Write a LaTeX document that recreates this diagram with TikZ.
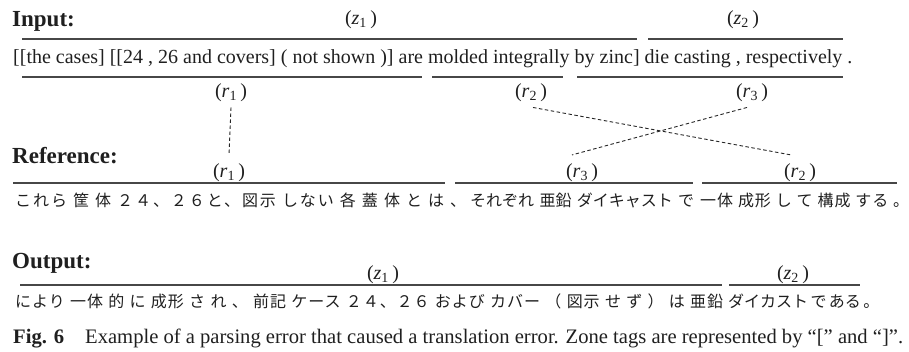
\documentclass[tikz,border=0pt]{standalone}
\usepackage{fontspec}
\setmainfont{Liberation Serif}
\newfontfamily\jpfont{Noto Sans CJK JP}
\begin{document}
\begin{tikzpicture}[x=1pt,y=-1pt,
  every node/.style={text=black!88},
  head/.style={font=\fontsize{23}{26}\selectfont\bfseries, anchor=base west, inner sep=0pt},
  sent/.style={font=\fontsize{20}{24}\selectfont, anchor=base west, inner sep=0pt},
  capt/.style={font=\fontsize{20.6}{24}\selectfont, anchor=base west, inner sep=0pt},
  lab/.style={font=\fontsize{20}{24}\selectfont, anchor=base, inner sep=2pt},
  jp/.style={font=\fontsize{16}{19}\selectfont\jpfont, anchor=base west, inner sep=0pt, text=black!88},
  seg/.style={line width=1.2pt, draw=black!72},
  conn/.style={line width=0.9pt, draw=black!85, dash pattern=on 3.5pt off 2.5pt}]
\useasboundingbox (0,0) rectangle (909,351);

% ---------- Input ----------
\node[head] (hin) at (12,26) {Input:};
\node[lab] (iz1) at (361,24) {(\textit{z}\textsubscript{1}\,)};
\node[lab] (iz2) at (743,24) {(\textit{z}\textsubscript{2}\,)};
\draw[seg] (22,39) -- (637,39);
\draw[seg] (648,39) -- (843,39);
\node[sent] (insent) at (13,63) {[[the cases] [[24 , 26 and covers] ( not shown )] are molded integrally by zinc] die casting , respectively .};
\draw[seg] (22,77) -- (422,77);
\draw[seg] (432,77) -- (563,77);
\draw[seg] (577,77) -- (843,77);
\node[lab] (ir1) at (231,97) {(\textit{r}\textsubscript{1}\,)};
\node[lab] (ir2) at (531,97) {(\textit{r}\textsubscript{2}\,)};
\node[lab] (ir3) at (752,97) {(\textit{r}\textsubscript{3}\,)};

% ---------- Reference ----------
\node[head] (href) at (12,163) {Reference:};
\node[lab] (rr1) at (229,177) {(\textit{r}\textsubscript{1}\,)};
\node[lab] (rr3) at (582,177) {(\textit{r}\textsubscript{3}\,)};
\node[lab] (rr2) at (800,177) {(\textit{r}\textsubscript{2}\,)};
\draw[seg] (13,183) -- (445,183);
\draw[seg] (455,183) -- (693,183);
\draw[seg] (702,183) -- (897,183);
\node[jp] (rj1) at (15,206) {\addfontfeatures{LetterSpace=12}\hbox to 451pt{これら 筐 体 ２４、２６と、図示 しない 各 蓋 体 と は 、}};
\node[jp] (rj2) at (470,206) {\hbox to 224pt{それぞれ 亜鉛 ダイキャスト で}};
\node[jp] (rj3) at (700,206) {\addfontfeatures{LetterSpace=6}\hbox to 209pt{一体 成形 し て 構成 する 。}};

% ---------- connectors ----------
\draw[conn] ([yshift=-4pt]ir1.south) -- ([yshift=6pt]rr1.north);
\draw[conn] ([xshift=2pt,yshift=-4pt]ir2.south) -- ([xshift=-9pt,yshift=6pt]rr2.north);
\draw[conn] ([xshift=-5pt,yshift=-4pt]ir3.south) -- ([xshift=-10pt,yshift=6pt]rr3.north);

% ---------- Output ----------
\node[head] (hout) at (12,268) {Output:};
\node[lab] (oz1) at (383,279) {(\textit{z}\textsubscript{1}\,)};
\node[lab] (oz2) at (793,279) {(\textit{z}\textsubscript{2}\,)};
\draw[seg] (20,285) -- (722,285);
\draw[seg] (729,285) -- (860,285);
\node[jp] (oj1) at (15,307) {\addfontfeatures{LetterSpace=6}\hbox to 708pt{により 一体 的 に 成形 さ れ 、 前記 ケース ２４、２６ および カバー （ 図示 せ ず ） は 亜鉛}};
\node[jp] (oj2) at (728,307) {\hbox to 147pt{ダイカスト で ある 。}};

% ---------- caption ----------
\node[capt, font=\fontsize{20.6}{24}\selectfont\bfseries] (cap1) at (13,343) {Fig. 6};
\node[capt] (cap2) at (85,343) {Example of a parsing error that caused a translation error. Zone tags are represented by “[” and “]”.};
\end{tikzpicture}
\end{document}
